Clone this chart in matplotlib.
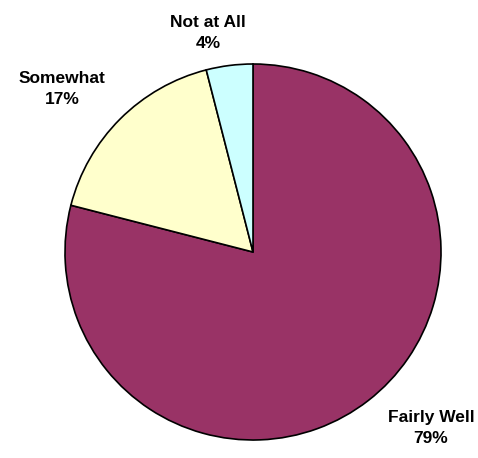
import matplotlib.pyplot as plt

labels = ['Fairly Well', 'Somewhat', 'Not at All']
values = [79, 17, 4]
colors = ['#993366', '#FFFFCC', '#CCFFFF']
# label anchor points in pixel space (x, y from bottom)
label_pos = [(431, 30), (62, 369), (208, 425)]

fig = plt.figure(figsize=(4.78, 4.58), dpi=100)
ax = fig.add_axes([0, 0, 1, 1])
ax.pie(values, colors=colors, startangle=90, counterclock=False,
       center=(253, 206), radius=188,
       wedgeprops=dict(edgecolor='black', linewidth=1.2))
ax.set_xlim(0, 478)
ax.set_ylim(0, 458)
ax.set_aspect('equal')
ax.axis('off')

for lab, v, (x, y) in zip(labels, values, label_pos):
    ax.text(x, y, f'{lab}\n{v}%', ha='center', va='center',
            fontsize=12.5, fontweight='bold', family='Liberation Sans',
            linespacing=1.55)

fig.savefig('out.png', dpi=100, facecolor='white')
